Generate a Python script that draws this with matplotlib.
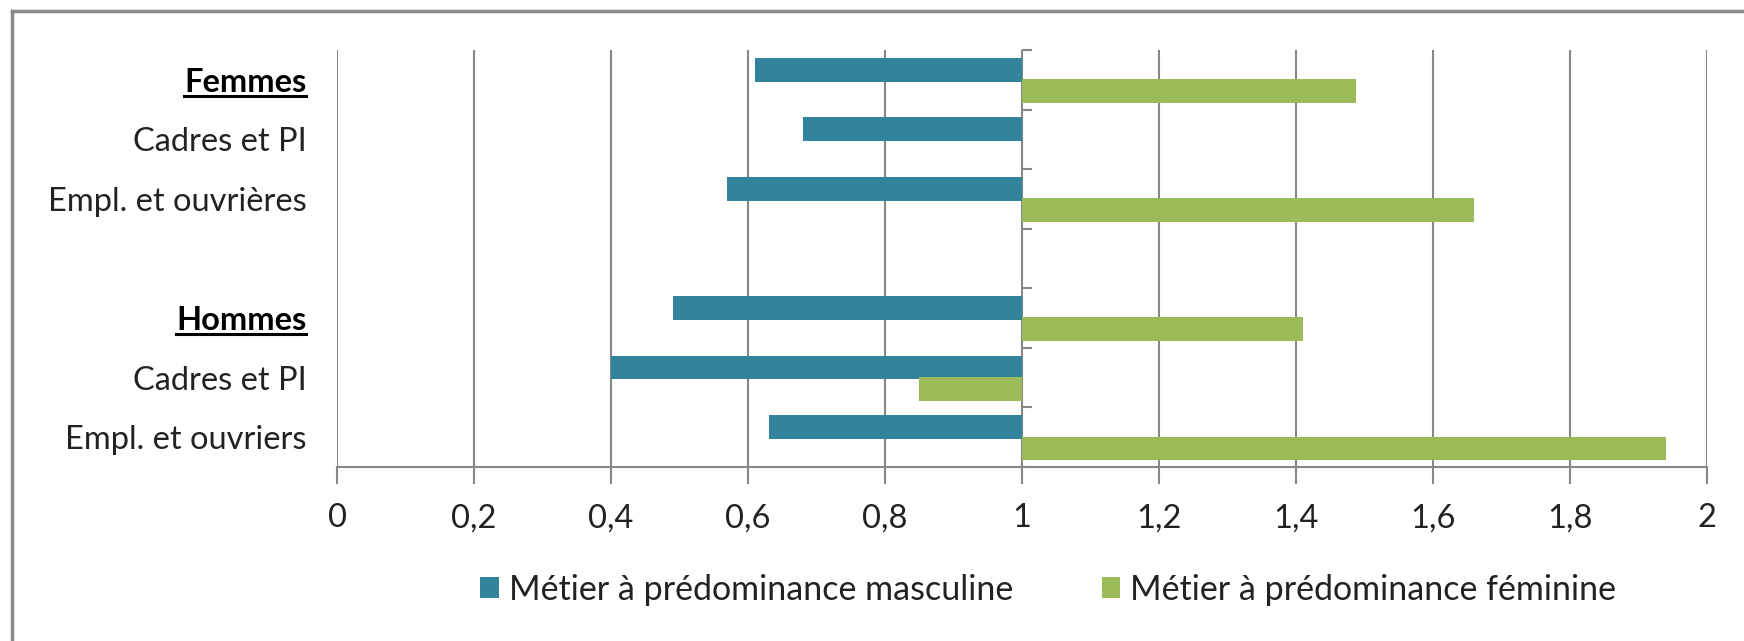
import matplotlib
matplotlib.use("Agg")
import matplotlib.pyplot as plt
from matplotlib.lines import Line2D
import numpy as np

plt.rcParams['font.family'] = ['Lato', 'DejaVu Sans']

categories = ["Femmes", "Cadres et PI", "Empl. et ouvrières", "",
              "Hommes", "Cadres et PI", "Empl. et ouvriers"]
header_labels = ["Femmes", "Hommes"]
masc = [0.61, 0.68, 0.57, np.nan, 0.49, 0.40, 0.63]
fem = [1.487, np.nan, 1.66, np.nan, 1.41, 0.85, 1.94]
series_names = ["Métier à prédominance masculine", "Métier à prédominance féminine"]
xticks = [0, 0.2, 0.4, 0.6, 0.8, 1, 1.2, 1.4, 1.6, 1.8, 2]
xtick_labels = ["0", "0,2", "0,4", "0,6", "0,8", "1", "1,2", "1,4", "1,6", "1,8", "2"]

BLUE = "#31849B"
GREEN = "#9BBB59"
GRID = "#878787"
TXT = "#222222"
BASE = 1.0

fig = plt.figure(figsize=(17.44, 6.41), dpi=100)
ax = fig.add_axes([337/1744, 1-467/641, (1707-337)/1744, (467-50)/641])

y = np.arange(len(categories))
h = 0.40
m = np.array(masc, dtype=float)
f = np.array(fem, dtype=float)
ax.barh(y - 0.17, m - BASE, left=BASE, height=h, color=BLUE, label=series_names[0], zorder=3)
ax.barh(y + 0.19, f - BASE, left=BASE, height=h, color=GREEN, label=series_names[1], zorder=3)

ax.set_xlim(0, 2)
ax.set_ylim(len(categories) - 0.5, -0.5)
ax.set_xticks(xticks)
ax.set_xticklabels(xtick_labels, fontsize=23.5, color=TXT)
ax.set_yticks(y)
ax.set_yticklabels(categories, fontsize=23.5, color=TXT)
for lab in ax.get_yticklabels():
    if lab.get_text() in header_labels:
        lab.set_fontweight("bold")
        lab.set_color("black")
ax.tick_params(axis='y', length=0, pad=22)
ax.tick_params(axis='x', length=12, width=1.5, color=GRID, pad=14)
ax.grid(axis='x', color=GRID, linewidth=1.5, zorder=0)
for s in ['top', 'right', 'left']:
    ax.spines[s].set_visible(False)
ax.spines['bottom'].set_color(GRID)
ax.spines['bottom'].set_linewidth(1.5)

sec = ax.secondary_yaxis(BASE, transform=ax.transData)
sec.set_yticks(np.arange(-0.5, len(categories) + 0.5, 1.0))
sec.set_yticklabels([])
sec.tick_params(axis='y', length=7, width=1.5, color=GRID, direction='out')
sec.spines['left'].set_color(GRID)
sec.spines['left'].set_linewidth(1.5)
for s in ['top', 'right', 'bottom']:
    sec.spines[s].set_visible(False)

leg = fig.legend(loc='center', bbox_to_anchor=(0.601, 0.08), ncol=2, frameon=False,
                 fontsize=24.5, handlelength=0.55, handleheight=0.55, handletextpad=0.3,
                 columnspacing=2.6, labelcolor=TXT)

# frame lines (top, left)
fig.add_artist(Line2D([12/1744, 12/1744], [0, 1-11/641], transform=fig.transFigure,
                      color="#8A8A8A", linewidth=2.5))
fig.add_artist(Line2D([12/1744, 1], [1-11/641, 1-11/641], transform=fig.transFigure,
                      color="#8A8A8A", linewidth=2.5))

# underline header labels
fig.canvas.draw()
r = fig.canvas.get_renderer()
inv = fig.transFigure.inverted()
for lab in ax.get_yticklabels():
    if lab.get_text() in header_labels:
        bb = lab.get_window_extent(r)
        (x0, y0), (x1, _) = inv.transform([(bb.x0, bb.y0), (bb.x1, bb.y1)])
        fig.add_artist(Line2D([x0, x1], [y0 + 1/641, y0 + 1/641], transform=fig.transFigure,
                              color="black", linewidth=2.2))

fig.savefig("out.png", dpi=100, facecolor="white")
